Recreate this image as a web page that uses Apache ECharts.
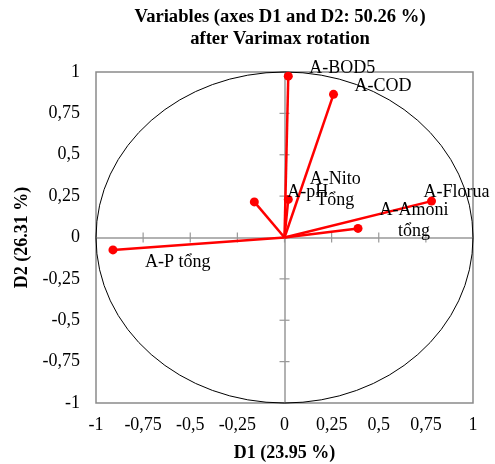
<!DOCTYPE html>
<html><head><meta charset="utf-8">
<script src="https://cdn.jsdelivr.net/npm/echarts@6/dist/echarts.min.js"></script>
<style>html,body{margin:0;padding:0;background:#fff}#c{width:495px;height:464px}</style>
</head><body><div id="c"></div>
<script>
// ---- data ----
const variableNames = ['A-BOD5', 'A-COD', 'A-Nito\nTổng', 'A-pH', 'A-Florua', 'A-Amoni\ntổng', 'A-P tổng'];
const d1Values = [0.02, 0.26, 0.02, -0.16, 0.78, 0.39, -0.91];
const d2Values = [0.975, 0.865, 0.23, 0.215, 0.22, 0.055, -0.075];
const axisTicks = [-1, -0.75, -0.5, -0.25, 0, 0.25, 0.5, 0.75, 1];
const titleLines = ['Variables (axes D1 and D2: 50.26 %)', 'after Varimax rotation'];
const xAxisName = 'D1 (23.95 %)';
const yAxisName = 'D2 (26.31 %)';

// ---- label placement (style, pixels relative to the point) ----
const labelStyle = [
  {dx: 21, dy: -8, align: 'left'},
  {dx: 21, dy: -8, align: 'left'},
  {dx: 47, dy: -10, align: 'center'},
  {dx: 33, dy: -10, align: 'left'},
  {dx: -8, dy: -9, align: 'left'},
  {dx: 56, dy: -8, align: 'center'},
  {dx: 32, dy: 12, align: 'left'}
];

const FONT = 'Liberation Serif';
const AXIS_GREY = '#999999';
const TICK_HALF = 5;
const fmt = v => String(v).replace('.', ',');
const chart = echarts.init(document.getElementById('c'), null, {renderer: 'canvas'});

const baseAxis = {type: 'value', min: axisTicks[0], max: axisTicks[axisTicks.length - 1], interval: 0.25, splitLine: {show: false}};
const zeroAxis = (pos) => Object.assign({}, baseAxis, {
  position: pos,
  axisLine: {show: true, onZero: true, onZeroAxisIndex: 0, lineStyle: {color: AXIS_GREY, width: 1.5}},
  axisTick: {show: false},
  axisLabel: {show: false}
});

const vectorData = d1Values.map((x, i) => [x, d2Values[i], variableNames[i]]);

chart.setOption({
  animation: false,
  title: {
    text: titleLines.join('\n'),
    left: 275, top: 1, textAlign: 'center',
    textStyle: {fontFamily: FONT, fontSize: 18.6, fontWeight: 'bold', color: '#000', lineHeight: 22}
  },
  grid: {left: 96, right: 22, top: 72, bottom: 61, show: true, borderColor: '#8a8a8a', borderWidth: 1.5,
         backgroundColor: 'transparent', containLabel: false, outerBoundsMode: 'none'},
  xAxis: [
    Object.assign({}, baseAxis, {
      position: 'bottom',
      axisLine: {show: false, onZero: false}, axisTick: {show: false},
      axisLabel: {formatter: fmt, fontFamily: FONT, fontSize: 18, color: '#000', margin: 13},
      name: xAxisName, nameLocation: 'middle', nameGap: 41,
      nameTextStyle: {fontFamily: FONT, fontSize: 18, fontWeight: 'bold', color: '#000'}
    }),
    zeroAxis('top')
  ],
  yAxis: [
    Object.assign({}, baseAxis, {
      position: 'left',
      axisLine: {show: false, onZero: false}, axisTick: {show: false},
      axisLabel: {formatter: fmt, fontFamily: FONT, fontSize: 18, color: '#000', margin: 16},
      name: yAxisName, nameLocation: 'middle', nameGap: 65, nameRotate: 90,
      nameTextStyle: {fontFamily: FONT, fontSize: 18, fontWeight: 'bold', color: '#000'}
    }),
    zeroAxis('right')
  ],
  series: [
    {
      // crossing tick marks on the two zero axes, at the axis tick values
      type: 'custom', xAxisIndex: 0, yAxisIndex: 0, silent: true, clip: false, z: 1,
      data: axisTicks.map(v => [v]),
      renderItem: function (params, api) {
        const v = api.value(0);
        const px = api.coord([v, 0]);
        const py = api.coord([0, v]);
        const st = {stroke: AXIS_GREY, lineWidth: 1.2};
        return {type: 'group', children: [
          {type: 'line', shape: {x1: px[0], y1: px[1] - TICK_HALF, x2: px[0], y2: px[1] + TICK_HALF}, style: st},
          {type: 'line', shape: {x1: py[0] - TICK_HALF, y1: py[1], x2: py[0] + TICK_HALF, y2: py[1]}, style: st}
        ]};
      }
    },
    {
      type: 'custom', xAxisIndex: 0, yAxisIndex: 0, silent: true, clip: false, z: 2,
      data: [[0, 0]],
      renderItem: function (params, api) {
        const c = api.coord([0, 0]);
        const s = api.size([1, 1]);
        const rx = s[0], ry = s[1];
        const p = 'M' + (c[0] - rx) + ' ' + c[1] + ' A' + rx + ' ' + ry + ' 0 1 0 ' + (c[0] + rx) + ' ' + c[1] +
                  ' A' + rx + ' ' + ry + ' 0 1 0 ' + (c[0] - rx) + ' ' + c[1] + ' Z';
        return {type: 'path', shape: {pathData: p}, style: {fill: 'none', stroke: '#000', lineWidth: 1}};
      }
    },
    {
      type: 'custom', xAxisIndex: 0, yAxisIndex: 0, silent: true, clip: false, z: 3,
      data: vectorData,
      renderItem: function (params, api) {
        const i = params.dataIndex;
        const o = api.coord([0, 0]);
        const p = api.coord([api.value(0), api.value(1)]);
        const ls = labelStyle[i];
        return {
          type: 'group',
          children: [
            {type: 'line', shape: {x1: o[0], y1: o[1], x2: p[0], y2: p[1]}, style: {stroke: '#ff0000', lineWidth: 2.5}},
            {type: 'circle', shape: {cx: p[0], cy: p[1], r: 4.5}, style: {fill: '#ff0000'}},
            {type: 'text', x: p[0] + ls.dx, y: p[1] + ls.dy,
             style: {text: variableNames[i], fontFamily: FONT, fontSize: 18, fill: '#000', align: ls.align, verticalAlign: 'middle', lineHeight: 21}}
          ]
        };
      }
    }
  ]
});
</script></body></html>
